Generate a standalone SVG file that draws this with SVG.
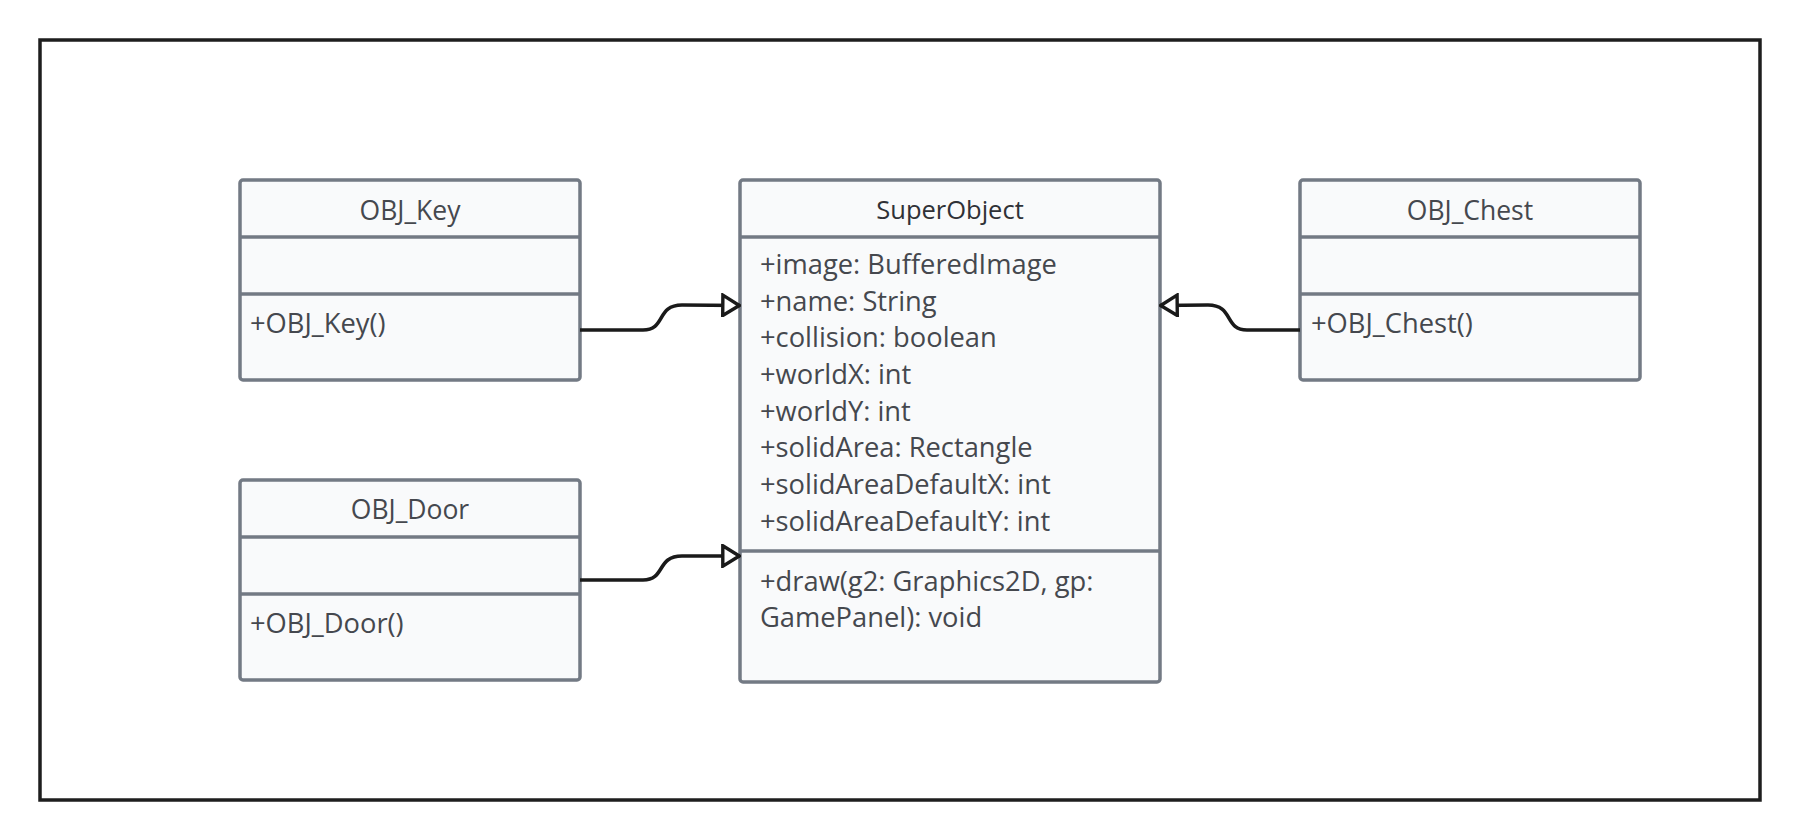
<svg xmlns="http://www.w3.org/2000/svg" width="1800" height="840" viewBox="0 0 1800 840">
<style>
.box{fill:#f9fafb;stroke:#737a84;stroke-width:3.5}
.div{stroke:#737a84;stroke-width:3.5}
.t{font-family:"Open Sans","Noto Sans",sans-serif;font-size:27.3px;fill:#45484e}
.title{text-anchor:middle;font-size:26.5px}
.dark{fill:#2f3136;font-size:25.5px}
.edge{fill:none;stroke:#1a1a1a;stroke-width:3.6}
</style>
<defs>
<marker id="tri" viewBox="0 0 20 24" refX="19" refY="12" markerWidth="20" markerHeight="24" markerUnits="userSpaceOnUse" orient="auto">
<path d="M1.8,1.8 L18.3,12 L1.8,22.2 Z" fill="#ffffff" stroke="#1a1a1a" stroke-width="3.4" stroke-linejoin="miter"/>
</marker>
</defs>
<rect x="0" y="0" width="1800" height="840" fill="#ffffff"/>
<rect x="40" y="40" width="1720" height="760" fill="#ffffff" stroke="#1e1e1e" stroke-width="3.5"/>

<g id="OBJ_Key">
<rect class="box" x="240" y="180" width="340" height="200" rx="3"/>
<line class="div" x1="240" y1="237" x2="580" y2="237"/>
<line class="div" x1="240" y1="294" x2="580" y2="294"/>
<text class="t title" x="410" y="220">OBJ_Key</text>
<text class="t" x="250" y="333">+OBJ_Key()</text>
</g>

<g id="OBJ_Door">
<rect class="box" x="240" y="480" width="340" height="200" rx="3"/>
<line class="div" x1="240" y1="537" x2="580" y2="537"/>
<line class="div" x1="240" y1="594" x2="580" y2="594"/>
<text class="t title" x="410" y="519">OBJ_Door</text>
<text class="t" x="250" y="633">+OBJ_Door()</text>
</g>

<g id="SuperObject">
<rect class="box" x="740" y="180" width="420" height="502" rx="3"/>
<line class="div" x1="740" y1="237" x2="1160" y2="237"/>
<line class="div" x1="740" y1="551" x2="1160" y2="551"/>
<text class="t title dark" x="950" y="219">SuperObject</text>
<text class="t" x="760" y="274">+image: BufferedImage</text>
<text class="t" x="760" y="310.7">+name: String</text>
<text class="t" x="760" y="347.3">+collision: boolean</text>
<text class="t" x="760" y="384">+worldX: int</text>
<text class="t" x="760" y="420.7">+worldY: int</text>
<text class="t" x="760" y="457.3">+solidArea: Rectangle</text>
<text class="t" x="760" y="494">+solidAreaDefaultX: int</text>
<text class="t" x="760" y="530.7">+solidAreaDefaultY: int</text>
<text class="t" x="760" y="591">+draw(g2: Graphics2D, gp:</text>
<text class="t" x="760" y="627">GamePanel): void</text>
</g>

<g id="OBJ_Chest">
<rect class="box" x="1300" y="180" width="340" height="200" rx="3"/>
<line class="div" x1="1300" y1="237" x2="1640" y2="237"/>
<line class="div" x1="1300" y1="294" x2="1640" y2="294"/>
<text class="t title" x="1470" y="220">OBJ_Chest</text>
<text class="t" x="1311" y="333">+OBJ_Chest()</text>
</g>

<g id="connectors">
<path class="edge" marker-end="url(#tri)" d="M580,330 L643,330 C666,330 656,305 682,305 L740,305.5"/>
<path class="edge" marker-end="url(#tri)" d="M580,580 L643,580 C666,580 656,556 682,556 L740,556"/>
<path class="edge" marker-end="url(#tri)" d="M1300,330 L1247,330 C1224,330 1234,305 1208,305 L1160,305.5"/>
</g>
</svg>
